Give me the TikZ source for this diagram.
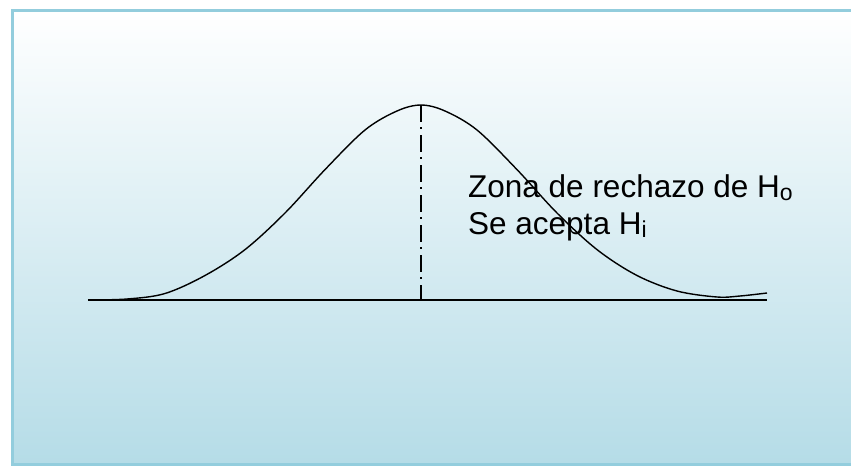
\documentclass[tikz,border=0pt]{standalone}
\usepackage{fontspec}
\setmainfont{Liberation Sans}
\usepackage{tikz}

\definecolor{framecol}{HTML}{93CDDD}
\definecolor{shadebot}{HTML}{B5DCE7}

\newcommand{\lowsub}[1]{\raisebox{-3pt}{\fontsize{23}{23}\selectfont #1}}

\begin{document}
\begin{tikzpicture}[
  x=1pt, y=-1pt,
  curve/.style={line width=1.4pt, black},
  axis/.style={line width=2pt, black},
  mean/.style={line width=2pt, dash pattern=on 17pt off 5pt on 2pt off 6pt},
  label/.style={anchor=base west, inner sep=0pt, font=\fontsize{31.5}{38}\selectfont}
]
\clip (0,0) rectangle (851,466);
% background panel
\shade[top color=white, bottom color=shadebot] (12,10) rectangle (870,464);
\draw[framecol, line width=3pt] (12,10) rectangle (870,464);

% axis and bell curve
\draw[axis] (88,300) -- (767,300);
\draw[curve] plot[smooth, tension=0.55] coordinates {
  (88,300) (127,299) (165,293.5) (205,275.5) (245,249.6) (285,213)
  (325,169.6) (365,130) (397,111) (421,105) (445,111) (477,130) (517,169.6)
  (557,213) (597,249.6) (637,275.5) (677,291) (717,297) (740,296) (767,293)};
\draw[mean] (421,105) -- (421,300);

% text
\node[label] (zona) at (468,197) {Zona de rechazo de H\lowsub{o}};
\node[label] (acepta) at (468,234) {Se acepta H\lowsub{i}};
\end{tikzpicture}
\end{document}
